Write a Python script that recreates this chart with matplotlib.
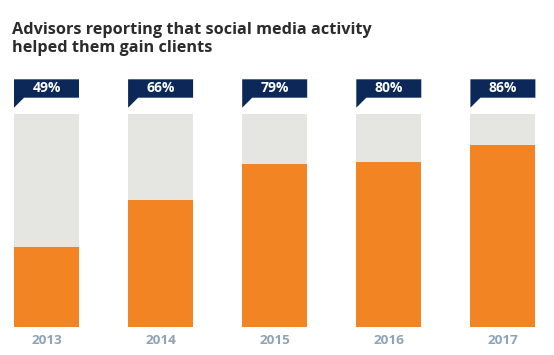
import matplotlib
matplotlib.use('Agg')
import matplotlib.pyplot as plt
from matplotlib.patches import Polygon

# ---- data ----
years = ['2013', '2014', '2015', '2016', '2017']
values = [49, 66, 79, 80, 86]
labels = ['49%', '66%', '79%', '80%', '86%']
track = [97.4, 97.4, 97.4, 97.4, 97.4]
baseline = 19.8

title_lines = ['Advisors reporting that social media activity',
               'helped them gain clients']

# ---- layout (pixels) ----
W, H = 554, 355
bar_bottom_px = 326.7
ax_top_px = 70.0
x0_px = 46.5          # center of first bar
step_px = 114.1       # spacing between bars
k = 2.74              # px per value unit

ORANGE = '#f38423'
GRAY = '#e5e5e1'
NAVY = '#0b2858'
YEAR_C = '#8ea3b6'
TITLE_C = '#2b2b2b'
FONT = 'Open Sans'

fig = plt.figure(figsize=(W / 100, H / 100), dpi=100)
ax = fig.add_axes([0, (H - bar_bottom_px) / H, 1, (bar_bottom_px - ax_top_px) / H])
ax.set_xlim(-x0_px / step_px, (W - x0_px) / step_px)
ax.set_ylim(baseline, baseline + (bar_bottom_px - ax_top_px) / k)

xs = list(range(len(years)))
bw = 65 / step_px
ax.bar(xs, [t - baseline for t in track], bottom=baseline, width=bw, color=GRAY, linewidth=0)
ax.bar(xs, [v - baseline for v in values], bottom=baseline, width=bw, color=ORANGE, linewidth=0)


def ypx(p):
    return baseline + (bar_bottom_px - p) / k


box_top = ypx(79.3)
box_bot = ypx(97.7)
tail_bot = ypx(107.7)
tail_w = 10 / step_px
for i, lab in zip(xs, labels):
    xl, xr = i - bw / 2, i + bw / 2
    poly = Polygon([(xl, box_top), (xr, box_top), (xr, box_bot), (xl + tail_w, box_bot),
                    (xl, tail_bot)], closed=True, facecolor=NAVY, edgecolor='none')
    ax.add_patch(poly)
    ax.text(i, (box_top + box_bot) / 2, lab, color='white', fontsize=10,
            fontweight='bold', family=FONT, ha='center', va='center')

ax.set_xticks(xs, years)
ax.tick_params(axis='x', length=0, pad=5.5, labelcolor=YEAR_C, labelsize=9.7)
for t in ax.get_xticklabels():
    t.set_fontweight('bold')
    t.set_family(FONT)
ax.set_yticks([])
for s in ax.spines.values():
    s.set_visible(False)

fig.text(12 / W, 1 - 34 / H, title_lines[0], fontsize=11.7, fontweight='bold',
         family=FONT, color=TITLE_C, ha='left', va='baseline')
fig.text(12 / W, 1 - 52.3 / H, title_lines[1], fontsize=11.7, fontweight='bold',
         family=FONT, color=TITLE_C, ha='left', va='baseline')

fig.savefig('out.png', dpi=100)
